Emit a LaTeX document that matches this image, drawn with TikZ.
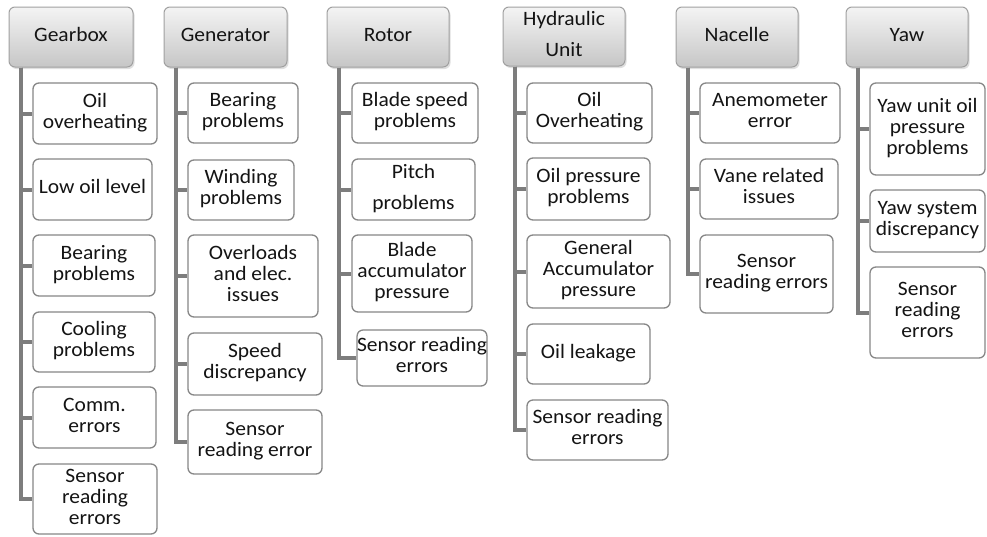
\documentclass[tikz,border=0pt]{standalone}
\usepackage{fontspec}
\usepackage{graphicx}
\setmainfont{Carlito}
\usetikzlibrary{shadows}
\definecolor{hdtop}{RGB}{244,244,244}
\definecolor{hdbot}{RGB}{198,198,198}
\definecolor{hdline}{RGB}{160,160,160}
\definecolor{cbline}{RGB}{135,135,135}
\definecolor{spinec}{RGB}{125,125,125}
\definecolor{txt}{RGB}{20,20,20}
\newcommand\sq[1]{\scalebox{1}[0.95]{\begin{tabular}{@{}c@{}}#1\end{tabular}}}
\newcommand\cbox[6]{\node[cb, minimum width={(#4-#2)*1pt}, minimum height={(#5-#3)*1pt}] (#1) at ({(#2+#4)/2},{(#3+#5)/2}) {\sq{#6}};}
\newcommand\headbox[6]{\node[hd, minimum width={(#4-#2)*1pt}, minimum height={(#5-#3)*1pt}] (#1) at ({(#2+#4)/2},{(#3+#5)/2}) {\sq{#6}};}
\begin{document}
\begin{tikzpicture}[x=1pt,y=-1pt,
  cb/.style={draw=cbline, line width=1.3pt, fill=white, rounded corners=6pt, inner sep=0pt, text=txt, font=\fontsize{21.5}{22}\selectfont},
  hd/.style={draw=hdline, line width=1pt, top color=hdtop, bottom color=hdbot, rounded corners=6pt, inner sep=0pt, text=txt, font=\fontsize{21.5}{22}\selectfont,
     drop shadow={shadow xshift=1.5pt, shadow yshift=-2pt, opacity=0.25, fill=gray}},
  spine/.style={draw=spinec, line width=4pt, line join=miter}]
\fill[white] (0,0) rectangle (987,536);
\useasboundingbox (0,0) rectangle (987,536);

% headers
\headbox{gb}{9}{7}{133}{67}{Gearbox}
\headbox{ge}{164}{7}{287}{67}{Generator}
\headbox{ro}{327}{7}{449}{67}{Rotor}
\headbox{hy}{503}{7}{625}{66}{Hydraulic\\[11pt]Unit}
\headbox{na}{676}{7}{798}{67}{Nacelle}
\headbox{ya}{846}{7}{968}{67}{Yaw}

% Gearbox
\cbox{gb1}{33}{83}{157}{144}{Oil\\overheating}
\cbox{gb2}{33}{159}{152}{220}{Low oil level}
\cbox{gb3}{33}{235}{155}{296}{Bearing\\problems}
\cbox{gb4}{33}{312}{155}{372}{Cooling\\problems}
\cbox{gb5}{33}{387}{156}{448}{Comm.\\errors}
\cbox{gb6}{33}{464}{157}{534}{Sensor\\reading\\errors}

% Generator
\cbox{ge1}{188}{83}{298}{143}{Bearing\\problems}
\cbox{ge2}{188}{160}{294}{220}{Winding\\problems}
\cbox{ge3}{188}{235}{318}{317}{Overloads\\and elec.\\issues}
\cbox{ge4}{188}{333}{322}{395}{Speed\\discrepancy}
\cbox{ge5}{188}{410}{322}{474}{Sensor\\reading error}

% Rotor
\cbox{ro1}{352}{83}{478}{143}{Blade speed\\problems}
\cbox{ro2}{352}{159}{475}{220}{Pitch\\[11pt]problems}
\cbox{ro3}{352}{235}{472}{312}{Blade\\accumulator\\pressure}
\cbox{ro4}{360}{330}{484}{386}{Sensor reading\\errors}

% Hydraulic
\cbox{hy1}{527}{83}{652}{143}{Oil\\Overheating}
\cbox{hy2}{527}{158}{650}{220}{Oil pressure\\problems}
\cbox{hy3}{527}{235}{670}{308}{General\\Accumulator\\pressure}
\cbox{hy4}{527}{324}{650}{384}{Oil leakage}
\cbox{hy5}{527}{400}{668}{460}{Sensor reading\\errors}

% Nacelle
\cbox{na1}{700}{83}{840}{143}{Anemometer\\error}
\cbox{na2}{700}{159}{838}{219}{Vane related\\issues}
\cbox{na3}{700}{235}{833}{313}{Sensor\\reading errors}

% Yaw
\cbox{ya1}{870}{83}{985}{175}{Yaw unit oil\\pressure\\problems}
\cbox{ya2}{870}{190}{985}{252}{Yaw system\\discrepancy}
\cbox{ya3}{870}{267}{985}{358}{Sensor\\reading\\errors}

% spines
\foreach \h/\n in {gb/6, ge/5, ro/4, hy/5, na/3, ya/3}{
  \coordinate (\h s) at ([xshift=12.5pt]\h.south west);
  \foreach \i in {1,...,\n}{
    \draw[spine] (\h s) |- (\h\i.west);
  }
}
\end{tikzpicture}
\end{document}
